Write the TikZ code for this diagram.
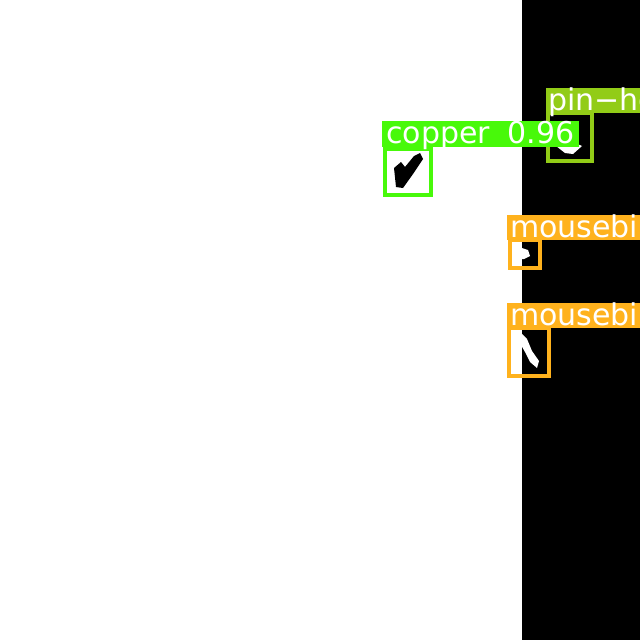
\documentclass[tikz,border=0pt]{standalone}
\usepackage{fontspec}
\setmainfont{DejaVu Sans}
\usetikzlibrary{positioning}
\definecolor{cucol}{HTML}{48F90A}
\definecolor{pincol}{HTML}{92CC17}
\definecolor{mbcol}{HTML}{FFB21D}
\tikzset{detbox/.style={draw=#1,line width=4pt,inner sep=0pt,outer sep=0pt,anchor=north west}}
\tikzset{band/.style={fill=#1,inner sep=0pt,outer sep=0pt,anchor=north west}}
\tikzset{tagtxt/.style={text=white,inner sep=0pt,anchor=base west,font=\fontsize{30}{30}\selectfont}}

\begin{document}
\begin{tikzpicture}[x=1pt,y=-1pt]
            \clip (0,0) rectangle (640,640);
            \fill[white] (0,0) rectangle (640,640);
            \fill[black] (522,0) rectangle (640,640);

            % marks under the boxes
            \fill[black] (394,168) -- (401,162) -- (405,167) -- (414,156) -- (420,153) -- (423,159) -- (413,174) -- (403,188) -- (396,187) -- cycle;
            \fill[white] (556,146) -- (563,143) -- (575,143) -- (582,146) -- (573,154) -- (565,153) -- cycle;
            \fill[white] (522,248) -- (528,250) -- (530,256) -- (524,259) -- (522,259) -- cycle;
            \fill[white] (521,333) -- (527,339) -- (532,351) -- (539,361) -- (537,368) -- (530,362) -- (525,352) -- (521,345) -- cycle;

            % pin-ho
            \node[detbox=pincol, minimum width=44pt, minimum height=48pt] (pinbox) at (548,113) {};
            \node[band=pincol, minimum width=120pt, minimum height=25pt] (pinband) at (546,88) {};
            \node[tagtxt] (pintext) at (548,110) {pin−ho};

            % mousebi
            \node[detbox=mbcol, minimum width=30pt, minimum height=28pt] (mbbox1) at (510,240) {};
            \node[band=mbcol, minimum width=140pt, minimum height=25pt] (mbband1) at (507,215) {};
            \node[tagtxt] (mbtext1) at (510,237) {mousebi};

            \node[detbox=mbcol, minimum width=40pt, minimum height=48pt] (mbbox2) at (509,328) {};
            \node[band=mbcol, minimum width=140pt, minimum height=25pt] (mbband2) at (507,303) {};
            \node[tagtxt] (mbtext2) at (510,325) {mousebi};

            % copper
            \node[detbox=cucol, minimum width=46pt, minimum height=46pt] (copperbox) at (385,149) {};
            \node[band=cucol, minimum width=197pt, minimum height=26pt] (copperband) at (382,121) {};
            \node[tagtxt] (coppertext) at (386,143) {copper\hspace{8pt} 0.96};
\end{tikzpicture}
\end{document}
